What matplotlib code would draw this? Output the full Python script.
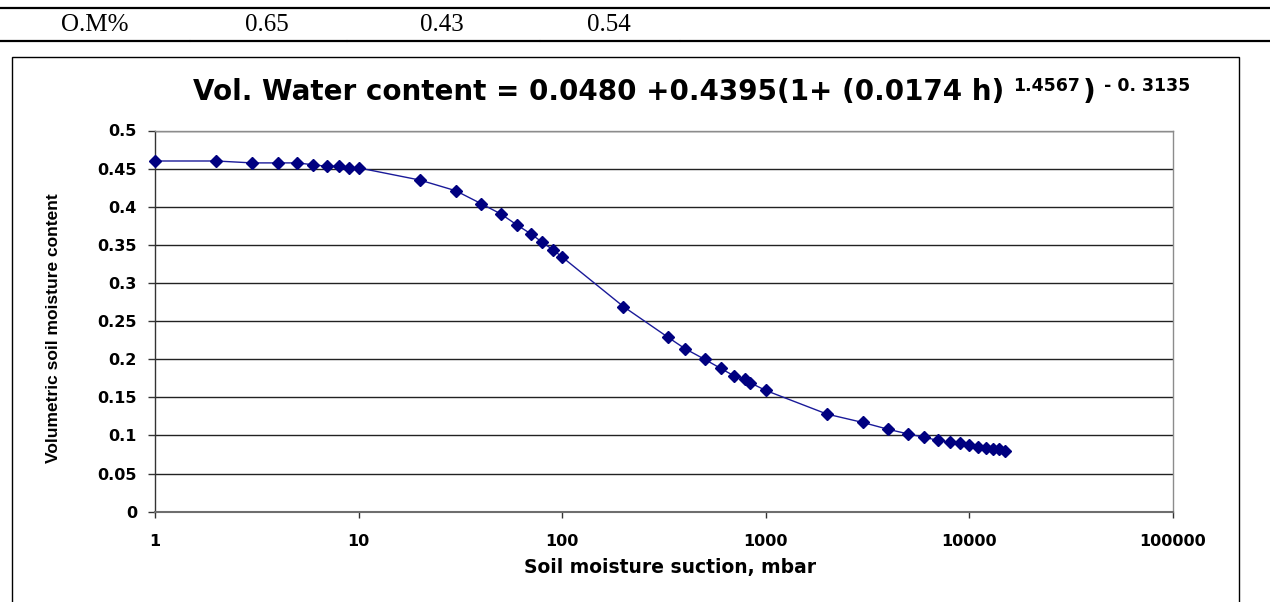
import matplotlib
matplotlib.use("Agg")
import matplotlib.pyplot as plt
from matplotlib.lines import Line2D
from matplotlib.patches import Rectangle
from matplotlib.transforms import IdentityTransform
from matplotlib.ticker import NullLocator, FixedLocator, FixedFormatter

# ---------------- data ----------------
suction = [1, 2, 3, 4, 5, 6, 7, 8, 9, 10, 20, 30, 40, 50, 60, 70, 80, 90, 100,
           200, 330, 400, 500, 600, 700, 790, 840, 1000, 2000, 3000, 4000, 5000,
           6000, 7000, 8000, 9000, 10000, 11000, 12000, 13000, 14000, 15000]
theta = [0.460, 0.460, 0.4575, 0.4575, 0.4575, 0.455, 0.453, 0.453, 0.451, 0.451,
         0.435, 0.421, 0.404, 0.3905, 0.376, 0.3646, 0.3532, 0.3436, 0.334,
         0.269, 0.229, 0.214, 0.200, 0.188, 0.178, 0.1736, 0.169, 0.159, 0.128,
         0.117, 0.108, 0.102, 0.0977, 0.0935, 0.0911, 0.0896, 0.0876, 0.0853,
         0.0832, 0.0819, 0.0817, 0.0797]

table_cells = ["O.M%", "0.65", "0.43", "0.54"]
x_ticks = [1, 10, 100, 1000, 10000, 100000]
x_tick_labels = ["1", "10", "100", "1000", "10000", "100000"]
y_ticks = [0, 0.05, 0.1, 0.15, 0.2, 0.25, 0.3, 0.35, 0.4, 0.45, 0.5]
y_tick_labels = ["0", "0.05", "0.1", "0.15", "0.2", "0.25", "0.3", "0.35", "0.4", "0.45", "0.5"]

title_main = "Vol. Water content = 0.0480 +0.4395(1+ (0.0174 h)"
title_exp1 = "1.4567"
title_close = ")"
title_exp2 = "- 0. 3135"
x_label = "Soil moisture suction, mbar"
y_label = "Volumetric soil moisture content"

# ---------------- figure ----------------
W, H = 1270, 602
fig = plt.figure(figsize=(W / 100, H / 100), dpi=100)
fig.patch.set_facecolor("white")


def fx(px):
    return px / W


def fy(py):
    return 1 - py / H


# table lines
fig.add_artist(Line2D([0, 1], [fy(7.5), fy(7.5)], transform=fig.transFigure,
                      color="black", lw=1.6))
segs = [(0, 189), (191, 346), (348, 539), (541, 679), (681, 1270)]
for a, b in segs:
    fig.add_artist(Line2D([fx(a), fx(b)], [fy(41), fy(41)], transform=fig.transFigure,
                          color="black", lw=1.6))
for txt, cx in zip(table_cells, [95, 267, 442, 609]):
    fig.text(fx(cx), fy(25), txt, ha="center", va="center",
             family="Liberation Serif", fontsize=18)

# chart outer box
fig.add_artist(Rectangle((fx(11.7), fy(640)), fx(1239) - fx(11.7), fy(57.3) - fy(640),
                         transform=fig.transFigure, fill=False, ec="black", lw=1.0))

# axes
ax = fig.add_axes([fx(155), fy(511.7), fx(1173) - fx(155), fy(130.5) - fy(511.7)])
ax.set_xscale("log")
ax.set_xlim(1, 100000)
ax.set_ylim(0, 0.5)
ax.xaxis.set_major_locator(FixedLocator(x_ticks))
ax.xaxis.set_major_formatter(FixedFormatter(x_tick_labels))
ax.xaxis.set_minor_locator(NullLocator())
ax.yaxis.set_major_locator(FixedLocator(y_ticks))
ax.yaxis.set_major_formatter(FixedFormatter(y_tick_labels))

ax.grid(axis="y", color="#222222", lw=1.0)
ax.set_axisbelow(True)

for s in ["top", "right"]:
    ax.spines[s].set_color("#8c8c8c")
    ax.spines[s].set_linewidth(1.0)
ax.spines["bottom"].set_color("#6e6e6e")
ax.spines["bottom"].set_linewidth(1.5)
ax.spines["left"].set_color("#333333")
ax.spines["left"].set_linewidth(1.0)

ax.tick_params(axis="y", direction="out", length=5, width=1, color="#333333", pad=8,
               labelsize=11.5)
ax.tick_params(axis="x", direction="out", length=4, width=1, color="#333333", pad=12,
               labelsize=11.5)
for lab in ax.get_xticklabels() + ax.get_yticklabels():
    lab.set_fontweight("bold")
    lab.set_family("DejaVu Sans")

ax.plot(suction, theta, color="#1a1a99", lw=1.0, marker="D", markersize=6.3,
        markerfacecolor="#000080", markeredgecolor="#000080", clip_on=False, zorder=3)

# title built from pieces (main text + superscripts), laid out in pixels
renderer = fig.canvas.get_renderer()
fs_main, fs_sup = 20, 12.5
baseline = H - 100
sup_raise = 9
pieces = [(title_main, fs_main, 0, 0), (title_exp1, fs_sup, sup_raise, 9),
          (title_close, fs_main, 0, 3), (title_exp2, fs_sup, sup_raise, 8)]
arts = []
for txt, fs, rz, gap in pieces:
    t = fig.text(0, baseline + rz, txt, transform=IdentityTransform(), ha="left",
                 va="baseline", fontsize=fs, fontweight="bold", family="DejaVu Sans")
    arts.append((t, gap))
widths = [t.get_window_extent(renderer).width for t, _ in arts]
total = sum(widths) + sum(g for _, g in arts)
x = 691.5 - total / 2
for (t, gap), w in zip(arts, widths):
    x += gap
    t.set_x(x)
    x += w

fig.text(fx(670), fy(567), x_label, ha="center", va="center", fontsize=13.5,
         fontweight="bold", family="DejaVu Sans")
fig.text(fx(53.5), fy(328), y_label, ha="center", va="center", rotation=90,
         fontsize=12.5, fontweight="bold", family="Liberation Sans")

fig.savefig("out.png", dpi=100, facecolor="white")
